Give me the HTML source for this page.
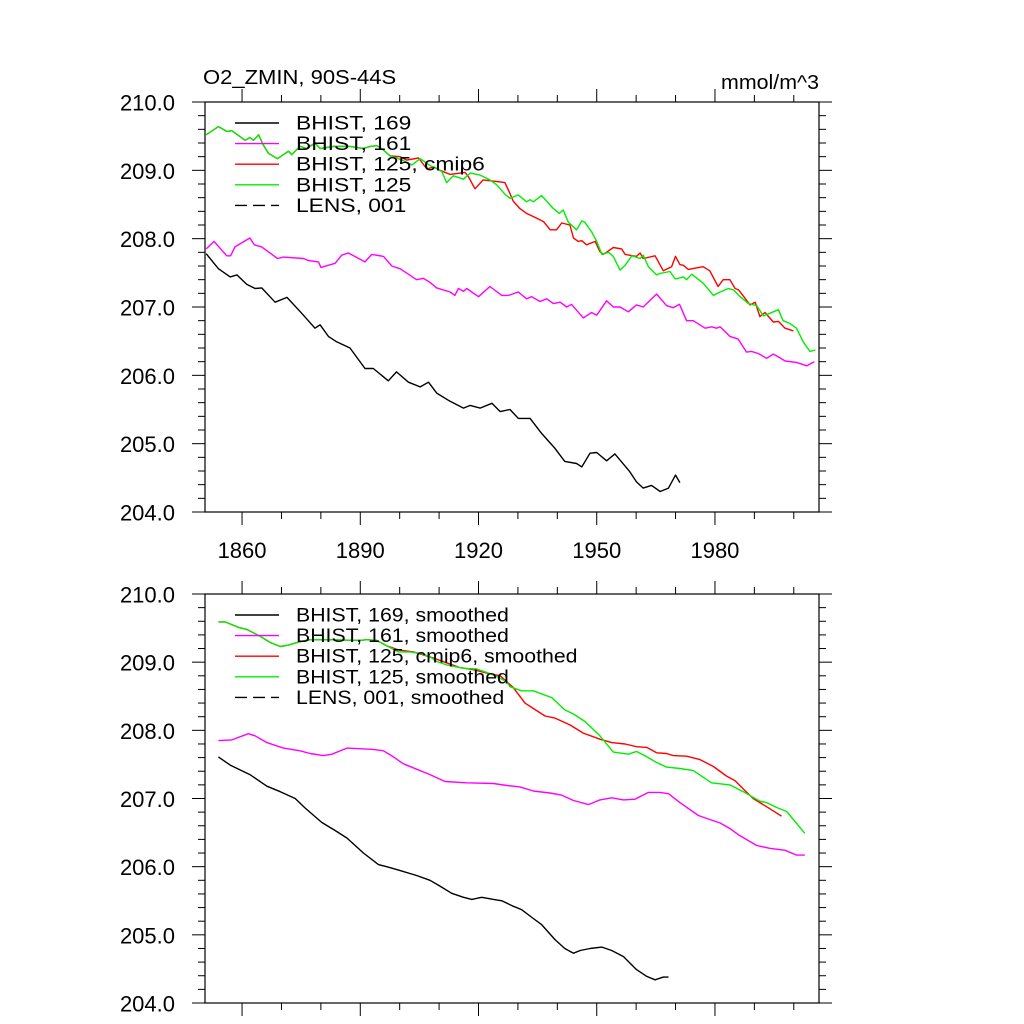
<!DOCTYPE html>
<html><head><meta charset="utf-8"><style>
html,body{margin:0;padding:0;background:#fff;}
svg{display:block;font-family:"Liberation Sans",sans-serif;}
</style></head><body>
<svg id="chart" width="1024" height="1024" viewBox="0 0 1024 1024" xmlns="http://www.w3.org/2000/svg">
<rect width="1024" height="1024" fill="#fff"/>
<text id="title" x="203" y="84" font-size="20">O2_ZMIN, 90S-44S</text>
<text id="units" x="819" y="89" font-size="20" text-anchor="end">mmol/m^3</text>
</svg>
<script>
// ---- data (top panel, raw annual) ----
const blkYears=[1850.9,1854.0,1857.0,1858.7,1861.2,1863.3,1865.0,1868.4,1871.4,1875.1,1878.5,1879.8,1881.9,1884.0,1887.4,1891.2,1893.3,1897.1,1899.2,1902.2,1905.2,1907.3,1909.4,1912.8,1916.2,1917.9,1920.4,1923.4,1925.5,1928.0,1930.1,1933.1,1936.0,1939.4,1941.9,1944.9,1946.2,1948.3,1950.0,1952.5,1954.6,1958.4,1960.1,1961.8,1963.9,1966.1,1968.2,1970.0,1971.1];
const blkVals=[207.78,207.56,207.44,207.47,207.33,207.27,207.28,207.07,207.14,206.91,206.69,206.74,206.57,206.49,206.40,206.10,206.10,205.92,206.05,205.90,205.83,205.90,205.74,205.62,205.52,205.56,205.52,205.59,205.47,205.50,205.37,205.37,205.15,204.93,204.74,204.71,204.66,204.86,204.87,204.75,204.85,204.59,204.44,204.35,204.39,204.30,204.35,204.54,204.43];
const magYears=[1850.9,1852.9,1856.1,1857.1,1858.2,1862.0,1863.1,1865.0,1869.0,1870.5,1875.6,1876.8,1879.4,1880.0,1883.6,1885.3,1887.0,1891.2,1892.9,1895.9,1898.0,1900.1,1904.3,1906.0,1907.7,1909.4,1912.8,1914.0,1914.9,1916.2,1917.0,1920.0,1922.9,1925.9,1927.6,1930.1,1932.2,1933.5,1935.6,1937.3,1939.0,1940.7,1942.4,1943.6,1946.6,1948.7,1950.0,1952.5,1954.2,1955.9,1958.0,1960.1,1961.8,1965.2,1967.7,1969.4,1971.0,1972.8,1974.5,1977.5,1979.2,1980.4,1981.3,1983.8,1985.9,1988.0,1989.3,1991.0,1993.1,1994.8,1996.1,1997.8,2000.7,2003.3,2005.2];
const magVals=[207.85,207.96,207.75,207.75,207.88,208.01,207.91,207.88,207.71,207.73,207.71,207.68,207.66,207.58,207.64,207.76,207.79,207.66,207.77,207.74,207.60,207.56,207.40,207.42,207.36,207.28,207.22,207.17,207.27,207.23,207.27,207.15,207.30,207.17,207.17,207.22,207.12,207.15,207.08,207.12,207.05,207.07,207.00,207.04,206.84,206.92,206.88,207.09,207.00,207.00,206.93,207.03,207.00,207.19,207.02,206.99,207.04,206.80,206.80,206.69,206.71,206.69,206.71,206.57,206.53,206.34,206.35,206.32,206.25,206.31,206.27,206.21,206.19,206.14,206.20];
const grnYears=[1850.9,1854.0,1856.1,1857.4,1860.8,1862.0,1862.9,1864.2,1865.4,1866.7,1869.0,1871.8,1872.6,1874.7,1876.4,1878.5,1879.8,1883.2,1887.4,1890.8,1892.5,1894.2,1895.4,1897.6,1899.7,1901.4,1903.1,1905.2,1907.7,1909.0,1910.7,1911.9,1913.6,1916.2,1917.9,1920.4,1922.9,1924.6,1925.5,1926.7,1928.0,1930.1,1932.2,1933.1,1933.9,1936.0,1939.0,1940.5,1941.5,1942.8,1944.9,1946.2,1947.0,1948.7,1950.0,1951.3,1953.0,1954.2,1955.9,1957.2,1958.9,1961.0,1961.8,1963.1,1965.2,1966.0,1968.6,1969.9,1972.0,1972.8,1974.1,1977.0,1979.6,1981.3,1983.4,1984.7,1986.4,1988.5,1990.6,1992.3,1994.0,1996.1,1997.3,1999.0,2000.7,2002.4,2004.1,2005.5];
const grnVals=[209.52,209.64,209.57,209.58,209.44,209.48,209.44,209.52,209.37,209.25,209.17,209.28,209.23,209.35,209.32,209.40,209.32,209.35,209.35,209.32,209.35,209.36,209.32,209.21,209.17,209.13,209.08,209.17,209.07,209.04,208.98,208.82,208.92,208.87,208.96,208.93,208.86,208.79,208.73,208.65,208.59,208.64,208.54,208.57,208.54,208.63,208.44,208.37,208.42,208.24,208.13,208.26,208.24,208.10,207.96,207.77,207.80,207.74,207.54,207.61,207.75,207.71,207.76,207.59,207.47,207.49,207.52,207.41,207.44,207.40,207.48,207.35,207.17,207.22,207.27,207.25,207.15,207.05,207.02,206.87,206.91,206.96,206.80,206.76,206.69,206.49,206.35,206.37];
const redYears=[1850.9,1854.0,1856.1,1857.4,1860.8,1862.0,1862.9,1864.2,1865.4,1866.7,1869.0,1871.8,1872.6,1874.7,1876.4,1878.5,1879.8,1883.2,1887.4,1890.8,1892.5,1894.2,1895.4,1897.6,1900.1,1901.8,1904.8,1906.9,1908.6,1910.2,1912.8,1916.6,1917.4,1919.1,1921.2,1925.5,1926.7,1928.0,1928.8,1930.5,1932.2,1934.8,1936.5,1938.2,1939.8,1941.1,1943.2,1944.1,1945.3,1946.2,1947.4,1949.6,1950.8,1951.7,1954.2,1956.3,1957.2,1960.1,1961.0,1961.8,1964.8,1966.9,1969.0,1970.0,1971.1,1972.0,1973.2,1977.0,1978.7,1980.8,1982.1,1983.8,1985.1,1986.0,1987.6,1988.9,1990.2,1991.4,1992.7,1994.8,1996.1,1997.8,1999.9];
const redVals=[209.52,209.64,209.57,209.58,209.44,209.48,209.44,209.52,209.37,209.25,209.17,209.28,209.23,209.35,209.32,209.40,209.32,209.35,209.35,209.32,209.35,209.36,209.32,209.21,209.20,209.15,209.18,209.02,209.05,209.00,208.94,208.97,208.91,208.73,208.86,208.83,208.82,208.66,208.55,208.44,208.37,208.30,208.25,208.13,208.13,208.23,208.20,208.01,207.96,207.97,207.91,207.96,207.81,207.77,207.87,207.85,207.77,207.74,207.79,207.71,207.75,207.53,207.59,207.74,207.62,207.61,207.55,207.59,207.53,207.30,207.40,207.40,207.27,207.25,207.13,207.03,207.07,206.86,206.92,206.78,206.79,206.69,206.65];
// ---- data (bottom panel, smoothed) ----
const sBlkYears=[1854.0,1857.0,1862.0,1866.3,1869.7,1873.5,1876.0,1880.2,1883.6,1886.6,1890.8,1894.6,1896.7,1899.7,1904.3,1907.7,1909.8,1913.2,1916.2,1918.3,1920.8,1923.8,1925.9,1928.8,1930.9,1933.9,1936.0,1939.4,1941.9,1944.1,1945.8,1948.3,1951.3,1953.8,1956.8,1960.1,1962.7,1964.8,1966.9,1968.2];
const sBlkVals=[207.61,207.49,207.35,207.18,207.10,207.00,206.86,206.65,206.53,206.42,206.20,206.03,206.00,205.95,205.87,205.80,205.73,205.61,205.55,205.52,205.55,205.52,205.50,205.42,205.37,205.24,205.15,204.93,204.80,204.73,204.77,204.80,204.82,204.77,204.68,204.49,204.39,204.34,204.38,204.38];
const sMagYears=[1854.0,1857.4,1861.6,1863.3,1866.3,1870.5,1874.7,1877.3,1880.6,1882.8,1886.6,1889.9,1893.3,1895.9,1898.4,1900.9,1904.3,1907.7,1911.5,1917.0,1923.8,1927.2,1930.5,1933.9,1938.1,1941.1,1944.1,1947.9,1950.8,1953.8,1956.8,1959.7,1963.1,1966.0,1968.2,1971.1,1975.8,1978.3,1981.3,1983.8,1985.9,1990.6,1993.9,1997.8,2000.7,2002.8];
const sMagVals=[207.85,207.86,207.95,207.92,207.82,207.74,207.70,207.66,207.63,207.65,207.74,207.73,207.72,207.70,207.61,207.51,207.43,207.35,207.25,207.23,207.22,207.19,207.17,207.11,207.08,207.05,206.97,206.91,206.98,207.01,206.98,206.99,207.09,207.09,207.07,206.94,206.75,206.70,206.64,206.56,206.47,206.31,206.27,206.24,206.17,206.17];
const sGrnYears=[1854.0,1855.7,1859.1,1861.2,1864.6,1867.1,1869.7,1871.8,1874.7,1877.3,1881.5,1889.9,1891.6,1894.2,1896.7,1899.7,1902.6,1905.2,1907.7,1909.4,1911.9,1916.2,1919.5,1922.1,1924.6,1927.2,1928.0,1930.9,1933.9,1938.6,1941.9,1944.1,1947.0,1950.8,1954.2,1958.0,1960.1,1962.2,1964.8,1967.7,1971.1,1974.5,1979.1,1983.8,1987.2,1991.4,1993.1,1995.6,1998.2,2002.8];
const sGrnVals=[209.59,209.59,209.51,209.48,209.38,209.29,209.23,209.25,209.30,209.33,209.33,209.32,209.33,209.32,209.24,209.15,209.15,209.13,209.08,209.01,208.96,208.91,208.90,208.85,208.79,208.71,208.64,208.58,208.58,208.48,208.30,208.24,208.13,207.92,207.68,207.65,207.69,207.63,207.54,207.46,207.44,207.41,207.23,207.20,207.10,206.96,206.94,206.87,206.81,206.49];
const sRedYears=[1854.0,1855.7,1859.1,1861.2,1864.6,1867.1,1869.7,1871.8,1874.7,1877.3,1881.5,1889.9,1891.6,1894.2,1896.7,1899.7,1903.5,1908.6,1911.9,1915.3,1918.7,1922.1,1925.5,1928.8,1931.8,1933.9,1936.9,1939.4,1943.2,1946.6,1950.8,1953.8,1957.2,1960.1,1962.7,1965.2,1967.7,1969.4,1972.8,1976.2,1979.6,1982.9,1985.1,1987.2,1989.7,1993.1,1996.9];
const sRedVals=[209.59,209.59,209.51,209.48,209.38,209.29,209.23,209.25,209.30,209.33,209.33,209.32,209.33,209.32,209.24,209.18,209.15,209.06,208.99,208.92,208.89,208.84,208.80,208.63,208.40,208.32,208.21,208.18,208.08,207.96,207.87,207.82,207.80,207.76,207.75,207.67,207.66,207.63,207.62,207.57,207.47,207.33,207.26,207.14,207.00,206.88,206.74];
const yTicks=[204,205,206,207,208,209,210];
const yTickLabels=["204.0","205.0","206.0","207.0","208.0","209.0","210.0"];
const xTicks=[1860,1890,1920,1950,1980];
const xTickLabels=["1860","1890","1920","1950","1980"];
const legendTop=["BHIST, 169","BHIST, 161","BHIST, 125, cmip6","BHIST, 125","LENS, 001"];
const legendBot=["BHIST, 169, smoothed","BHIST, 161, smoothed","BHIST, 125, cmip6, smoothed","BHIST, 125, smoothed","LENS, 001, smoothed"];

const NS="http://www.w3.org/2000/svg";
const svg=document.getElementById('chart');
const X0=205,X1=819,YR0=1850.6,YR1=2006.4;
function xs(yr){return X0+(yr-YR0)/(YR1-YR0)*(X1-X0);}
function mk(tag,attrs,parent){const e=document.createElementNS(NS,tag);for(const k in attrs)e.setAttribute(k,attrs[k]);(parent||svg).appendChild(e);return e;}
function stretch(el,f){const w=el.getComputedTextLength();if(w>0){el.setAttribute('textLength',(w*f).toFixed(1));el.setAttribute('lengthAdjust','spacingAndGlyphs');}}

function panel(top,bot,name,series,legend,showX,legF){
  const ys=v=>bot-(v-204)/6*(bot-top);
  const g=mk('g',{});
  
  
  for(let yr=1850;yr<=2010;yr+=10){
    if(yr<YR0||yr>YR1)continue;
    const x=xs(yr),major=(yr-1860)%30===0,L=major?13:7;
    const t1=mk('line',{x1:x,x2:x,y1:top,y2:top-L,stroke:'#000','stroke-width':1},g);
    
    
    const t2=mk('line',{x1:x,x2:x,y1:bot,y2:bot+L,stroke:'#000','stroke-width':1},g);
    
    
  }
  for(let i=0;i<=30;i++){
    const v=204+i*0.2,y=ys(v),major=i%5===0,L=major?13:7;
    const a=mk('line',{x1:X0,x2:X0-L,y1:y,y2:y,stroke:'#000','stroke-width':1},g);
    
    
    const b=mk('line',{x1:X1,x2:X1+L,y1:y,y2:y,stroke:'#000','stroke-width':1},g);
    
    
  }
  yTicks.forEach((v,i)=>{
    const t=mk('text',{x:175,y:ys(v)+8.5,'font-size':22,'text-anchor':'end'},g);
    
    
    t.textContent=yTickLabels[i];
  });
  if(showX){xTicks.forEach((yr,i)=>{
    const t=mk('text',{x:xs(yr),y:bot+46,'font-size':22,'text-anchor':'middle'},g);
    
    
    t.textContent=xTickLabels[i];
  });}
  series.forEach(s=>{
    const d=s.yrs.map((yr,i)=>(i?'L':'M')+xs(yr).toFixed(1)+','+ys(s.vals[i]).toFixed(1)).join('');
    const p=mk('path',{d:d,fill:'none',stroke:s.c,'stroke-width':1.4,'stroke-linejoin':'round'},g);
    
    
  });
  const cols=['#000','#ff00ff','#ff0000','#00ee00','#000'];
  legend.forEach((lab,i)=>{
    const y=top+21+i*20.6;
    const l=mk('line',{x1:235,x2:279,y1:y,y2:y,stroke:cols[i],'stroke-width':1.4,'stroke-dasharray':i===4?'12,6':'none'},g);
    
    
    const t=mk('text',{x:296,y:y+6.5,'font-size':19},g);
    
    
    t.textContent=lab;
    stretch(t,legF);
  });
  const fr=mk('rect',{x:X0,y:top,width:X1-X0,height:bot-top,fill:'none',stroke:'#000','stroke-width':1.2},g);
  
  
}
panel(102,512,'top-panel',[
 {yrs:blkYears,vals:blkVals,c:'#000',n:'series-bhist-169'},
 {yrs:magYears,vals:magVals,c:'#ff00ff',n:'series-bhist-161'},
 {yrs:redYears,vals:redVals,c:'#ff0000',n:'series-bhist-125-cmip6'},
 {yrs:grnYears,vals:grnVals,c:'#00ee00',n:'series-bhist-125'}],legendTop,true,1.2);
panel(594,1003,'bottom-panel',[
 {yrs:sBlkYears,vals:sBlkVals,c:'#000',n:'series-bhist-169-smoothed'},
 {yrs:sMagYears,vals:sMagVals,c:'#ff00ff',n:'series-bhist-161-smoothed'},
 {yrs:sRedYears,vals:sRedVals,c:'#ff0000',n:'series-bhist-125-cmip6-smoothed'},
 {yrs:sGrnYears,vals:sGrnVals,c:'#00ee00',n:'series-bhist-125-smoothed'}],legendBot,false,1.12);
stretch(document.getElementById('title'),1.1);
stretch(document.getElementById('units'),1.07);
</script>
</body></html>
